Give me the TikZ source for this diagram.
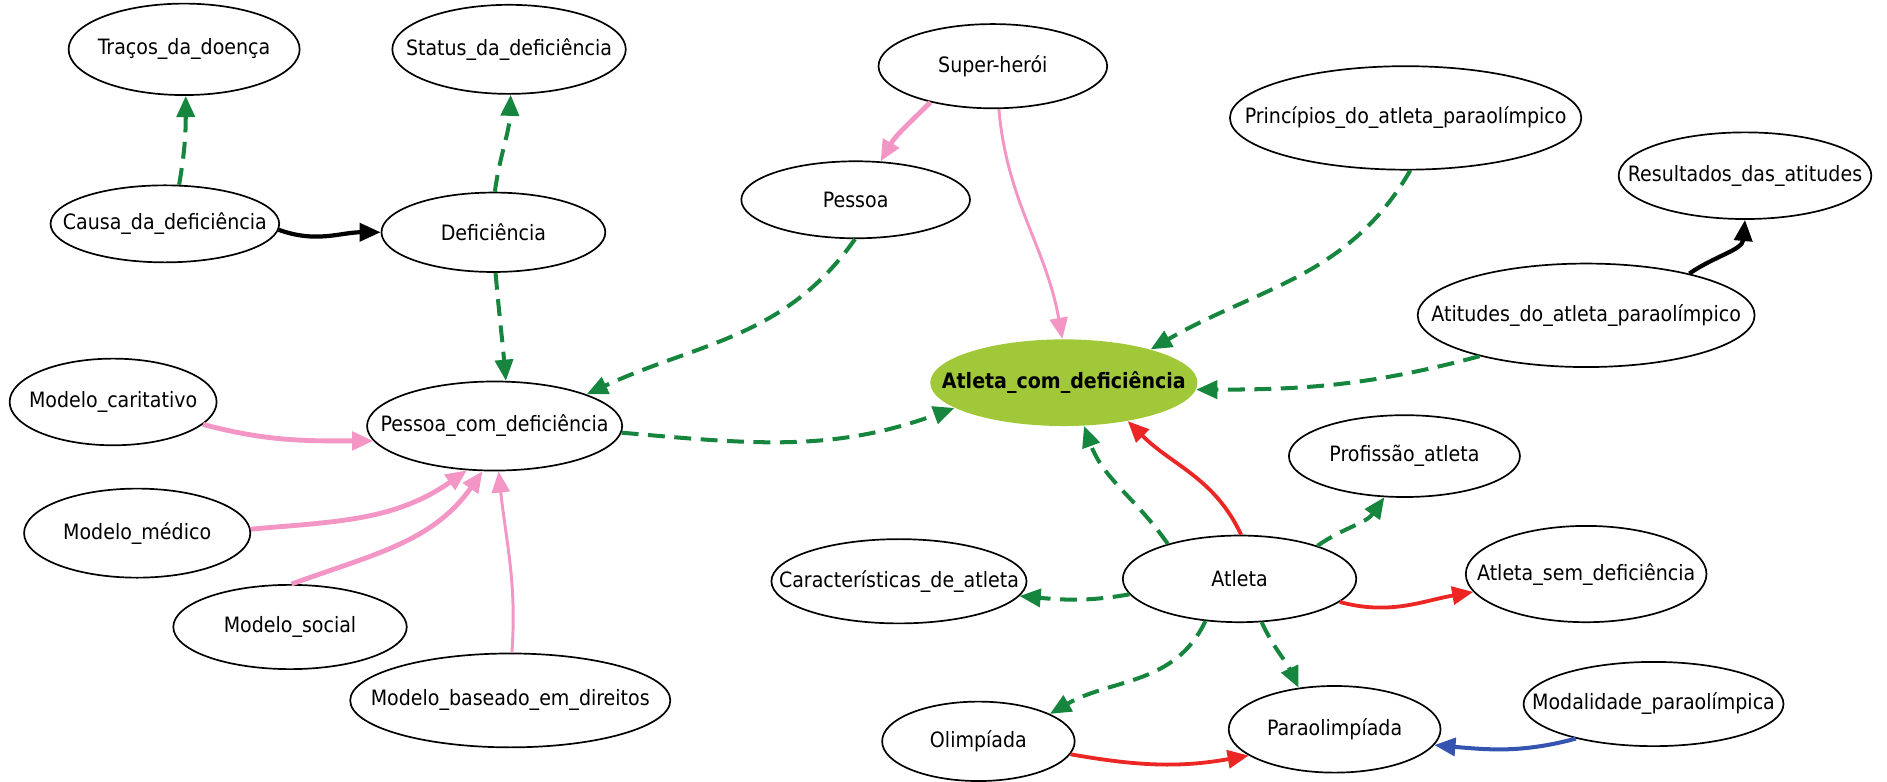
\documentclass[tikz,border=0pt]{standalone}
\usepackage{fontspec}
\setmainfont{DejaVu Sans Condensed}
\usetikzlibrary{shapes.geometric,arrows.meta}
\definecolor{gr}{RGB}{22,134,62}
\definecolor{pk}{RGB}{243,150,198}
\definecolor{rd}{RGB}{236,38,36}
\definecolor{bl}{RGB}{52,84,176}
\definecolor{lime}{RGB}{160,200,56}
% zero-width label so the ellipse keeps its given size
\newcommand{\zw}[1]{\makebox[0pt]{#1}}
\begin{document}
\begin{tikzpicture}[x=0.02cm,y=-0.02cm,
  ell/.style={ellipse, draw=black, line width=0.8pt, inner sep=0pt,
    font=\fontsize{10}{12}\selectfont},
  sz/.style 2 args={minimum width=#1*0.02cm, minimum height=#2*0.02cm},
  tip/.style={-{Triangle[length=10pt,width=8.5pt]}},
  gdash/.style={tip, draw=gr, line width=1.9pt, dash pattern=on 8pt off 4.5pt},
  pthick/.style={tip, draw=pk, line width=2.3pt},
  pthin/.style={tip, draw=pk, line width=1.4pt},
  rline/.style={tip, draw=rd, line width=1.8pt},
  kline/.style={tip, draw=black, line width=2pt},
  bline/.style={tip, draw=bl, line width=1.9pt}]
\useasboundingbox (0,0) rectangle (1568,649);

% nodes
\node[ell, sz={192}{76}] (trac) at (153,41) {\zw{Traços\_da\_doença}};
\node[ell, sz={194}{74}] (stat) at (423,41) {\zw{Status\_da\_deficiência}};
\node[ell, sz={190}{64}] (causa) at (137,186) {\zw{Causa\_da\_deficiência}};
\node[ell, sz={186}{66}] (defi) at (410,193) {\zw{Deficiência}};
\node[ell, sz={190}{70}] (super) at (825,55) {\zw{Super-herói}};
\node[ell, sz={190}{64}] (pessoa) at (711,166) {\zw{Pessoa}};
\node[ell, sz={292}{86}] (princ) at (1168,98) {\zw{Princípios\_do\_atleta\_paraolímpico}};
\node[ell, sz={210}{72}] (result) at (1450,146) {\zw{Resultados\_das\_atitudes}};
\node[ell, sz={280}{86}] (atit) at (1318,262) {\zw{Atitudes\_do\_atleta\_paraolímpico}};
\node[ellipse, fill=lime, inner sep=0pt, sz={222}{72},
  font=\fontsize{10}{12}\selectfont\bfseries] (acd) at (884,318) {\zw{Atleta\_com\_deficiência}};
\node[ell, sz={172}{72}] (mcar) at (94,334) {\zw{Modelo\_caritativo}};
\node[ell, sz={212}{74}] (pcd) at (411,354) {\zw{Pessoa\_com\_deficiência}};
\node[ell, sz={188}{74}] (mmed) at (114,443) {\zw{Modelo\_médico}};
\node[ell, sz={194}{70}] (msoc) at (241,521) {\zw{Modelo\_social}};
\node[ell, sz={266}{78}] (mbas) at (424,582) {\zw{Modelo\_baseado\_em\_direitos}};
\node[ell, sz={192}{68}] (prof) at (1167,379) {\zw{Profissão\_atleta}};
\node[ell, sz={212}{70}] (carac) at (747,483) {\zw{Características\_de\_atleta}};
\node[ell, sz={194}{72}] (atleta) at (1030,481) {\zw{Atleta}};
\node[ell, sz={200}{80}] (asem) at (1318,477) {\zw{Atleta\_sem\_deficiência}};
\node[ell, sz={160}{66}] (olim) at (813,616) {\zw{Olimpíada}};
\node[ell, sz={176}{72}] (para) at (1109,606) {\zw{Paraolimpíada}};
\node[ell, sz={216}{70}] (modal) at (1374,585) {\zw{Modalidade\_paraolímpica}};

% connectors
\draw[gdash] (causa.70) to[out=80,in=-90] (trac.-88);
\draw[gdash] (defi.88) to[out=82,in=-92] (stat.-88);
\draw[kline] (causa.-3) to[out=-20,in=180] (defi.180);
\draw[gdash] (defi.-87) to[out=-85,in=95] (pcd.76);
\draw[gdash] (pessoa.-91) to[out=-125,in=25] (pcd.19);
\draw[pthick] (super.-150) to[out=-135,in=60] (pessoa.57);
\draw[pthin] (super.-82) to[out=-85,in=100] (acd.92);
\draw[gdash] (princ.-85) to[out=-120,in=30] (acd.21);
\draw[kline] (atit.22) to[out=35,in=-95] (result.-90);
\draw[gdash] (atit.-159) to[out=-165,in=0] (acd.-3);
\draw[gdash] (pcd.-3) to[out=-5,in=-160] (acd.-167);
\draw[pthick] (mcar.-14) to[out=-15,in=180] (pcd.-173);
\draw[pthick] (mmed.2) to[out=5,in=-145] (pcd.-122);
\draw[pthick] (msoc.88) to[out=20,in=-125] (pcd.-105);
\draw[pthin] (mbas.88) to[out=86,in=-84] (pcd.-85);
\draw[gdash] (atleta.154) to[out=125,in=-70] (acd.-65);
\draw[rline] (atleta.88) to[out=115,in=-45] (acd.-31);
\draw[gdash] (atleta.23) to[out=35,in=-125] (prof.-116);
\draw[gdash] (atleta.-172) to[out=-170,in=-5] (carac.-7);
\draw[rline] (atleta.-13) to[out=-15,in=-170] (asem.-171);
\draw[gdash] (atleta.-129) to[out=-115,in=30] (olim.21);
\draw[gdash] (atleta.-63) to[out=-65,in=115] (para.131);
\draw[rline] (olim.-8) to[out=-10,in=-170] (para.-163);
\draw[bline] (modal.-156) to[out=-165,in=-5] (para.-9);
\end{tikzpicture}
\end{document}
